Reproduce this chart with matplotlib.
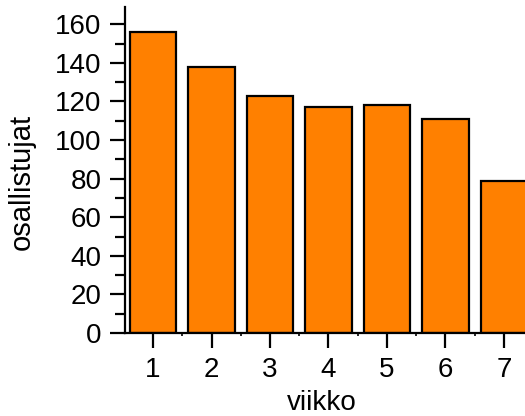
import numpy as np
import matplotlib.pyplot as plt
from matplotlib.ticker import MultipleLocator

# Osallistujat viikoittain
viikot = np.array([1, 2, 3, 4, 5, 6, 7])
osallistujat = np.array([156, 138, 123, 117, 118, 111, 79])

plt.rcParams['font.family'] = ['Liberation Sans', 'DejaVu Sans']

fig = plt.figure(figsize=(5.25, 4.16), dpi=100)
ax = fig.add_axes([0.238, 0.1995, 0.762, 0.784])

ax.bar(viikot, osallistujat, width=0.8, color='#FF8000', edgecolor='black', linewidth=1.6)

ax.set_xlim(0.52, 7.36)
ax.set_ylim(0, 169)
ax.set_xticks(viikot)
ax.xaxis.set_minor_locator(MultipleLocator(0.5))
ax.yaxis.set_major_locator(MultipleLocator(20))
ax.yaxis.set_minor_locator(MultipleLocator(10))

for s in ['top', 'right']:
    ax.spines[s].set_visible(False)
for s in ['left', 'bottom']:
    ax.spines[s].set_linewidth(1.6)

ax.tick_params(axis='both', which='major', direction='out', length=11, width=1.6,
               labelsize=20, pad=6)
ax.tick_params(axis='y', which='minor', direction='out', length=7, width=1.6)
ax.tick_params(axis='x', which='minor', direction='out', length=2, width=1.2)

ax.set_xlabel('viikko', fontsize=20)
ax.set_ylabel('osallistujat', fontsize=21)
ax.xaxis.set_label_coords(0.4925, -0.175)
ax.yaxis.set_label_coords(-0.222, 0.463)

fig.savefig('out.png', dpi=100)
